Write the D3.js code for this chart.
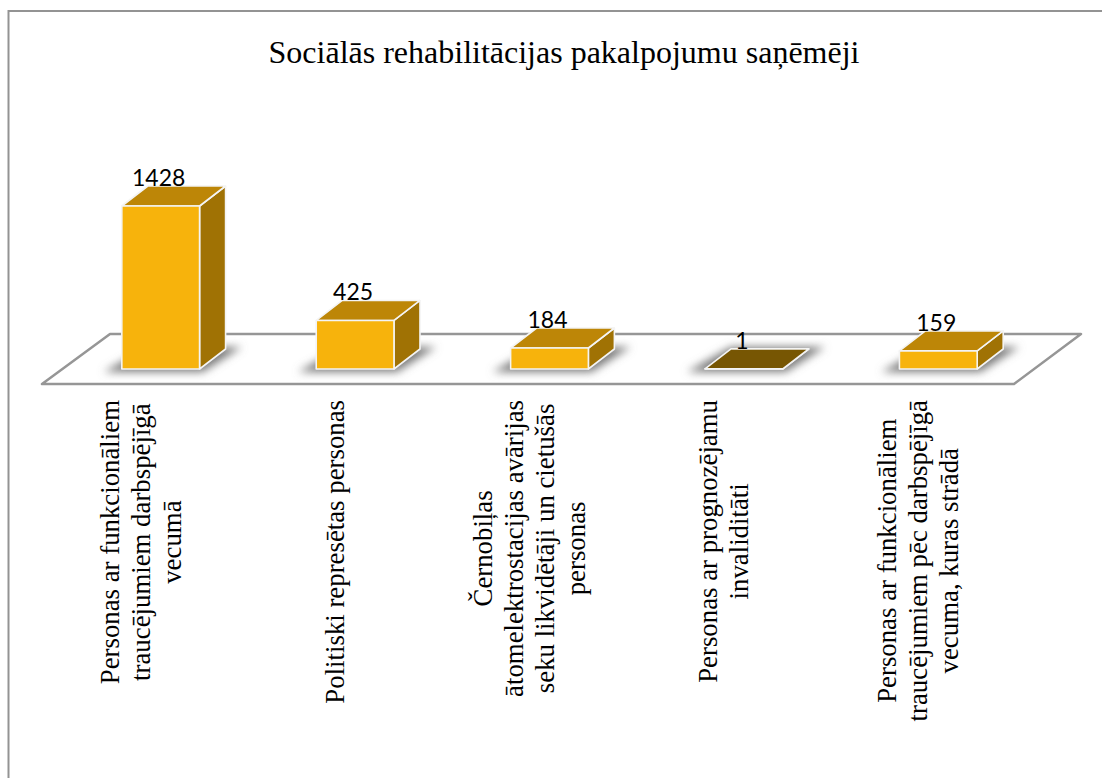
<!DOCTYPE html>
<html>
<head>
<meta charset="utf-8">
<script src="https://cdn.jsdelivr.net/npm/d3@7"></script>
<style>
  html, body { margin: 0; padding: 0; background: #fff; overflow: hidden; }
  svg { display: block; }
</style>
</head>
<body>
<svg id="chart"></svg>
<script>
const width = 1102;
const height = 778;

const title = "Sociālās rehabilitācijas pakalpojumu saņēmēji";

const values = [1428, 425, 184, 1, 159];
const categoryLines = [
  ["Personas ar funkcionāliem", "traucējumiem darbspējīgā", "vecumā"],
  ["Politiski represētas personas"],
  ["Černobiļas", "ātomelektrostacijas avārijas", "seku likvidētāji un cietušās", "personas"],
  ["Personas ar prognozējamu", "invaliditāti"],
  ["Personas ar funkcionāliem", "traucējumiem pēc darbspējīgā", "vecuma, kuras strādā"]
];

const baseY = 369;
const depthX = 26;
const depthY = -20;
const labelTop = 400;
const lineGap = 31;

const svg = d3.select("#chart")
  .attr("width", width)
  .attr("height", height);

const defs = svg.append("defs");
defs.append("filter")
  .attr("id", "blur")
  .attr("x", "-30%").attr("y", "-60%")
  .attr("width", "160%").attr("height", "220%")
  .append("feGaussianBlur")
  .attr("stdDeviation", 4);

const x = d3.scaleBand()
  .domain(d3.range(values.length))
  .range([63.5, 1035.5])
  .paddingInner(0.6)
  .paddingOuter(0.3);

const y = d3.scaleLinear()
  .domain([0, d3.max(values)])
  .range([baseY, 206]);

/* ---------------------------
Frame and title
--------------------------- */

svg.append("rect")
  .attr("x", 8.5)
  .attr("y", 11)
  .attr("width", width + 20)
  .attr("height", height + 20)
  .attr("fill", "#fff")
  .attr("stroke", "#939393")
  .attr("stroke-width", 2);

svg.append("text")
  .attr("x", 564)
  .attr("y", 63)
  .attr("text-anchor", "middle")
  .attr("font-family", "'Liberation Serif'")
  .attr("font-size", 32)
  .attr("fill", "#000")
  .text(title);

/* ---------------------------
Floor
--------------------------- */

svg.append("path")
  .attr("d", "M42,384L1014,384L1081,334L110,334Z")
  .attr("fill", "#fff")
  .attr("stroke", "#969696")
  .attr("stroke-width", 2.5)
  .attr("stroke-linejoin", "round");

/* ---------------------------
Bars
--------------------------- */

function points(list) {
  return list.map(p => p.join(",")).join(" ");
}

const bars = svg.selectAll("g.bar")
  .data(values)
  .enter()
  .append("g")
  .attr("class", "bar");

bars.each(function (v, i) {
  const g = d3.select(this);
  const x0 = x(i);
  const x1 = x0 + x.bandwidth();
  const top = y(v);
  const flat = baseY - top < 1;

  g.append("polygon")
    .attr("points", points([
      [x0 - 18, baseY + 3],
      [x1 + 3, baseY + 3],
      [x1 + depthX + 16, baseY + depthY - 2],
      [x0 + depthX, baseY + depthY - 2]
    ]))
    .attr("fill", "#7a7a7a")
    .attr("filter", "url(#blur)");

  const faces = [
    { fill: "#a07204", pts: [[x1, baseY], [x1 + depthX, baseY + depthY], [x1 + depthX, top + depthY], [x1, top]] },
    { fill: flat ? "#775603" : "#bd8607", pts: [[x0, top], [x1, top], [x1 + depthX, top + depthY], [x0 + depthX, top + depthY]] },
    { fill: "#f7b30c", pts: [[x0, baseY], [x1, baseY], [x1, top], [x0, top]] }
  ];

  g.selectAll("polygon.face")
    .data(faces)
    .enter()
    .append("polygon")
    .attr("class", "face")
    .attr("points", d => points(d.pts))
    .attr("fill", d => d.fill)
    .attr("stroke", "#f4f4f4")
    .attr("stroke-width", 1.6)
    .attr("stroke-linejoin", "round");
});

/* ---------------------------
Value labels
--------------------------- */

svg.selectAll("text.value")
  .data(values)
  .enter()
  .append("text")
  .attr("class", "value")
  .attr("x", (d, i) => x(i) + x.bandwidth() / 2 - 2)
  .attr("y", d => y(d) + depthY)
  .attr("text-anchor", "middle")
  .attr("font-family", "Lato")
  .attr("font-size", 23)
  .attr("fill", "#000")
  .text(d => d);

/* ---------------------------
Category labels (rotated)
--------------------------- */

const catGroups = svg.selectAll("g.cat")
  .data(categoryLines)
  .enter()
  .append("g")
  .attr("class", "cat");

catGroups.each(function (lines, i) {
  const g = d3.select(this);
  const centerX = x(i) + x.bandwidth() / 2 - 11;
  const firstX = centerX - (lines.length - 1) / 2 * lineGap;

  const texts = g.selectAll("text")
    .data(lines)
    .enter()
    .append("text")
    .attr("font-family", "'Liberation Serif'")
    .attr("font-size", 26.8)
    .attr("fill", "#000")
    .attr("text-anchor", "middle")
    .text(d => d);

  let longest = 0;
  texts.each(function () {
    longest = Math.max(longest, this.getComputedTextLength());
  });

  texts.attr("transform", (d, k) =>
    "translate(" + (firstX + k * lineGap) + "," + (labelTop + longest / 2) + ") rotate(-90)");
});
</script>
</body>
</html>
